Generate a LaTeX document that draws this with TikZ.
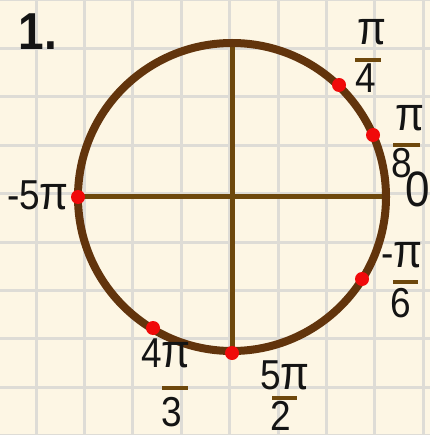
\documentclass[tikz,border=0pt]{standalone}
\usepackage{fontspec}
\usepackage{graphicx}
\setmainfont{Liberation Sans}
\definecolor{bg}{RGB}{253,246,228}
\definecolor{gridc}{RGB}{222,220,214}
\definecolor{circc}{RGB}{98,52,12}
\definecolor{axisc}{RGB}{110,72,12}
\definecolor{dotc}{RGB}{240,10,10}
\newcommand\tallt[1]{\scalebox{1}[1.13]{#1}}
\newcommand\bigpi{{\fontsize{42}{42}\selectfont π}}
\tikzset{
  lbl/.style={inner sep=0pt, anchor=center, text=black!92, font=\fontsize{37}{37}\selectfont},
  fbar/.style={draw=axisc, line width=4pt},
  dot/.style={circle, fill=dotc, inner sep=0pt, minimum size=14pt},
}
\begin{document}
\begin{tikzpicture}[x=1pt,y=-1pt]
\useasboundingbox (0,0) rectangle (430,435);
\fill[bg] (0,0) rectangle (430,435);
% grid
\foreach \i in {-1,...,8} \draw[gridc, line width=3pt] ({36+48.4*\i},0) -- ({36+48.4*\i},435);
\foreach \j in {0,...,9} \draw[gridc, line width=3pt] (0,{48.4*\j}) -- (430,{48.4*\j});
% circle and axes
\coordinate (O) at (232,197);
\draw[axisc, line width=5pt] (78,197) -- (386,197);
\draw[axisc, line width=5pt] (232,43) -- (232,351);
\draw[circc, line width=8pt] (O) circle[radius=154];
% points
\node[dot] (p0) at (78,197) {};
\node[dot] (p1) at (339,85) {};
\node[dot] (p2) at (373,135) {};
\node[dot] (p3) at (362,279) {};
\node[dot] (p4) at (153,328) {};
\node[dot] (p5) at (232,353) {};
% labels
\node[lbl, font=\fontsize{46}{46}\selectfont\bfseries] (one) at (38,32) {\tallt{1.}};
\node[lbl] (m5pi) at (38,195) {\tallt{-5\bigpi}};
\node[lbl] (n4) at (372,32) {\tallt{\bigpi}};
\draw[fbar] (355,60) -- (381,60);
\node[lbl] (d4) at (366,78) {\tallt{4}};
\node[lbl] (n8) at (410,118) {\tallt{\bigpi}};
\draw[fbar] (393,145) -- (420,145);
\node[lbl] (d8) at (402,163) {\tallt{8}};
\node[lbl, font=\fontsize{44}{44}\selectfont] (zero) at (418,189) {\tallt{0}};
\node[lbl] (n6) at (402,255) {\tallt{-\bigpi}};
\draw[fbar] (393,282) -- (418,282);
\node[lbl] (d6) at (401,303) {\tallt{6}};
\node[lbl] (n3) at (166,353) {\tallt{4\bigpi}};
\draw[fbar] (162,388) -- (188,388);
\node[lbl] (d3) at (172,412) {\tallt{3}};
\node[lbl] (n2) at (285,375) {\tallt{5\bigpi}};
\draw[fbar] (272,398) -- (297,398);
\node[lbl] (d2) at (281,416) {\tallt{2}};
\end{tikzpicture}
\end{document}
